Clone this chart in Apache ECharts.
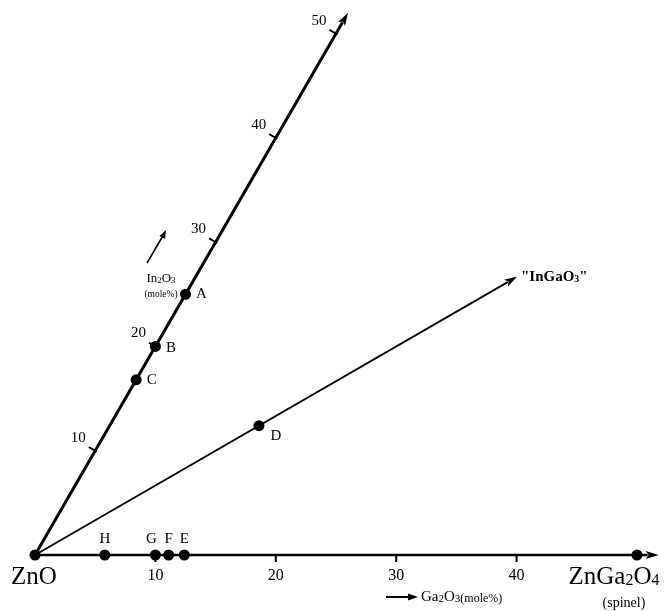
<!DOCTYPE html>
<html><head><meta charset="utf-8">
<script src="https://cdn.jsdelivr.net/npm/echarts@6/dist/echarts.min.js"></script>
<style>html,body{margin:0;padding:0;background:#fff}#c{width:672px;height:611px}</style>
</head><body><div id="c"></div>
<script>
// ---- data (ternary compositions in mole%) ----
const gaTicks = [10, 20, 30, 40];
const gaTickLabels = ['10', '20', '30', '40'];
const inTicks = [10, 20, 30, 40, 50];
const inTickLabels = ['10', '20', '30', '40', '50'];
const inAxisNames = ['A', 'B', 'C'];
const inAxisValues = [25, 20, 16.8];          // In2O3 mole%
const gaAxisNames = ['H', 'G', 'F', 'E'];
const gaAxisValues = [5.8, 10, 11.1, 12.4];   // Ga2O3 mole%
const ingaNames = ['D'];
const ingaValues = [12.4];                     // Ga2O3 = In2O3 mole%
const spinelGa = 50;                           // ZnGa2O4
const gaAxisEnd = 51.8;
const inAxisEnd = 52;
const ingaEnd = 26.7;

const FONT = '"Liberation Serif", "DejaVu Serif", "Times New Roman", serif';
const INK = '#000';
const S = 12.04;
const R3 = Math.sqrt(3) / 2;
function toXY(ga, inn) { return [ga + inn * 0.5, inn * R3]; }

const chart = echarts.init(document.getElementById('c'), null, { renderer: 'canvas' });

const scatterData = [];
scatterData.push({ value: toXY(0, 0), name: 'ZnO', label: { show: false } });
gaAxisNames.forEach((n, i) => scatterData.push({
  value: toXY(gaAxisValues[i], 0), name: n,
  label: { show: true, position: 'top', distance: 3, offset: [n === 'G' ? -4 : 0, 0] }
}));
scatterData.push({ value: toXY(spinelGa, 0), name: 'ZnGa2O4', label: { show: false } });
inAxisNames.forEach((n, i) => scatterData.push({
  value: toXY(0, inAxisValues[i]), name: n,
  label: { show: true, position: 'right', distance: 5, offset: [0, n === 'B' ? 2 : 0] }
}));
ingaNames.forEach((n, i) => scatterData.push({
  value: toXY(ingaValues[i], ingaValues[i]), name: n,
  label: { show: true, position: 'right', distance: 6, offset: [0, 10] }
}));

const tickItems = [];
gaTicks.forEach((t, i) => tickItems.push({ xy: toXY(t, 0), label: gaTickLabels[i], kind: 'ga' }));
inTicks.forEach((t, i) => tickItems.push({ xy: toXY(0, t), label: inTickLabels[i], kind: 'in' }));

const axisItems = [
  { from: toXY(0, 0), to: toXY(gaAxisEnd, 0), width: 2.5 },
  { from: toXY(0, 0), to: toXY(0, inAxisEnd), width: 3 },
  { from: toXY(0, 0), to: toXY(ingaEnd, ingaEnd), width: 1.8 }
];

chart.setOption({
  animation: false,
  backgroundColor: '#fff',
  grid: { left: 35, bottom: 56, width: 52.5 * S, height: 46 * S },
  xAxis: { type: 'value', min: 0, max: 52.5, show: false },
  yAxis: { type: 'value', min: 0, max: 46, show: false },
  series: [
    {
      type: 'custom', silent: true, clip: false,
      data: axisItems.map(a => a.to),
      renderItem: function (params, api) {
        const a = axisItems[params.dataIndex];
        const p0 = api.coord(a.from), p1 = api.coord(a.to);
        const dx = p1[0] - p0[0], dy = p1[1] - p0[1];
        const L = Math.hypot(dx, dy), ux = dx / L, uy = dy / L;
        const hl = 13, hw = 4;
        const bx = p1[0] - ux * hl, by = p1[1] - uy * hl;
        return { type: 'group', children: [
          { type: 'line', shape: { x1: p0[0], y1: p0[1], x2: bx + ux * 2, y2: by + uy * 2 }, style: { stroke: INK, lineWidth: a.width } },
          { type: 'polygon', shape: { points: [[p1[0], p1[1]], [bx - uy * hw, by + ux * hw], [bx + ux * 3, by + uy * 3], [bx + uy * hw, by - ux * hw]] }, style: { fill: INK } }
        ] };
      }
    },
    {
      type: 'custom', silent: true, clip: false,
      data: tickItems.map(t => t.xy),
      renderItem: function (params, api) {
        const t = tickItems[params.dataIndex];
        const p = api.coord(t.xy);
        if (t.kind === 'ga') {
          return { type: 'group', children: [
            { type: 'line', shape: { x1: p[0], y1: p[1], x2: p[0], y2: p[1] + 7 }, style: { stroke: INK, lineWidth: 2 } },
            { type: 'text', x: p[0], y: p[1] + 21, style: { text: t.label, fill: INK, font: '16px ' + FONT, align: 'center', verticalAlign: 'middle' } }
          ] };
        }
        return { type: 'group', children: [
          { type: 'line', shape: { x1: p[0] + 1.5, y1: p[1] + 0.9, x2: p[0] - 6.5, y2: p[1] - 3.8 }, style: { stroke: INK, lineWidth: 1.8 } },
          { type: 'text', x: p[0] - 17, y: p[1] - 13, style: { text: t.label, fill: INK, font: '15px ' + FONT, align: 'center', verticalAlign: 'middle' } }
        ] };
      }
    },
    {
      type: 'scatter', clip: false, symbol: 'circle', symbolSize: 11,
      itemStyle: { color: INK, opacity: 1 },
      label: { show: true, formatter: '{b}', color: INK, fontFamily: FONT, fontSize: 15 },
      data: scatterData
    }
  ]
});

const sub = (size) => ({ fontFamily: FONT, fontSize: size, lineHeight: size, verticalAlign: 'bottom', color: INK });
const g = [];
function txt(x, y, text, size, opts) {
  g.push(Object.assign({ type: 'text', x: x, y: y, silent: true,
    style: Object.assign({ text: text, fill: INK, font: size + 'px ' + FONT, align: 'center', verticalAlign: 'middle' }, opts || {}) }));
}
txt(34, 577, 'ZnO', 25);
g.push({ type: 'text', x: 614, y: 577, silent: true, style: {
  text: '{a|ZnGa}{s|2}{a|O}{s|4}', align: 'center', verticalAlign: 'middle',
  rich: { a: sub(25), s: Object.assign(sub(16), { padding: [0, 0, 1, 0] }) } } });
txt(624, 603, '(spinel)', 14);
g.push({ type: 'text', x: 161, y: 279, silent: true, style: {
  text: '{a|In}{s|2}{a|O}{s|3}', align: 'center', verticalAlign: 'middle',
  rich: { a: sub(13), s: sub(9) } } });
txt(161, 294, '(mole%)', 9.5);
g.push({ type: 'line', silent: true, shape: { x1: 147, y1: 263, x2: 164, y2: 234 }, style: { stroke: INK, lineWidth: 1.6 } });
g.push({ type: 'polygon', silent: true, shape: { points: [[166, 230], [159.5, 236], [165, 239]] }, style: { fill: INK } });
g.push({ type: 'line', silent: true, shape: { x1: 386, y1: 597, x2: 410, y2: 597 }, style: { stroke: INK, lineWidth: 2 } });
g.push({ type: 'polygon', silent: true, shape: { points: [[418, 597], [408, 593.5], [408, 600.5]] }, style: { fill: INK } });
g.push({ type: 'text', x: 421, y: 597, silent: true, style: {
  text: '{a|Ga}{s|2}{a|O}{s|3}{m|(mole%)}', align: 'left', verticalAlign: 'middle',
  rich: { a: sub(15), s: sub(11), m: sub(12) } } });
g.push({ type: 'text', x: 521, y: 277, silent: true, style: {
  text: '{a|"InGaO}{s|3}{a|"}', align: 'left', verticalAlign: 'middle',
  rich: { a: Object.assign(sub(15), { fontWeight: 'bold' }), s: Object.assign(sub(10), { fontWeight: 'bold' }) } } });
chart.setOption({ graphic: g });
</script>
</body></html>
